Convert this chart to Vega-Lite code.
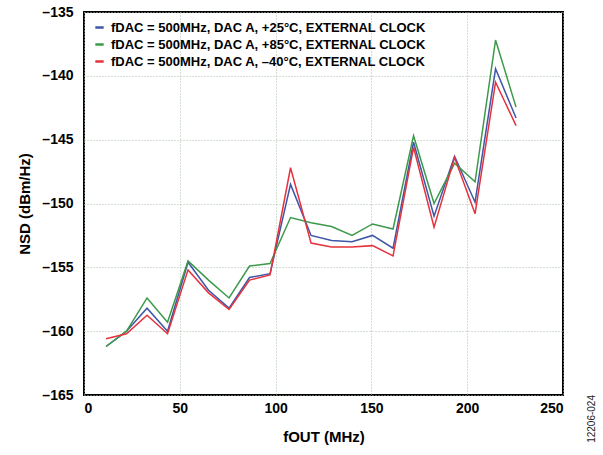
{
  "$schema": "https://vega.github.io/schema/vega-lite/v6.json",
  "width": 479,
  "height": 383,
  "autosize": "none",
  "padding": {"left": 84, "top": 12, "right": 40, "bottom": 60},
  "background": "white",
  "title": {"text": "12206-024", "orient": "right", "anchor": "end", "angle": 270, "fontSize": 10, "font": "Liberation Sans", "fontWeight": "normal", "color": "#222", "offset": 14, "frame": "group"},
  "config": {
    "font": "Liberation Sans",
    "view": {"stroke": "black", "strokeWidth": 2},
    "axis": {"domain": false, "ticks": false, "grid": true, "gridColor": "#a9bfa9", "gridDash": [1, 2], "gridWidth": 1, "labelFont": "Liberation Sans", "labelFontWeight": "bold", "labelFontSize": 14, "labelColor": "black", "titleFont": "Liberation Sans", "titleFontWeight": "bold", "titleFontSize": 15, "titleColor": "black"},
    "legend": {"labelFont": "Liberation Sans", "labelFontWeight": "bold", "labelFontSize": 13, "labelColor": "black", "labelLimit": 500}
  },
  "data": {"values": [
    {"f": 11.5, "nsd": -161.2, "s": "fDAC = 500MHz, DAC A, +25°C, EXTERNAL CLOCK"},
    {"f": 22.2, "nsd": -160.0, "s": "fDAC = 500MHz, DAC A, +25°C, EXTERNAL CLOCK"},
    {"f": 32.9, "nsd": -158.2, "s": "fDAC = 500MHz, DAC A, +25°C, EXTERNAL CLOCK"},
    {"f": 43.6, "nsd": -160.0, "s": "fDAC = 500MHz, DAC A, +25°C, EXTERNAL CLOCK"},
    {"f": 54.3, "nsd": -154.6, "s": "fDAC = 500MHz, DAC A, +25°C, EXTERNAL CLOCK"},
    {"f": 65.0, "nsd": -156.8, "s": "fDAC = 500MHz, DAC A, +25°C, EXTERNAL CLOCK"},
    {"f": 75.7, "nsd": -158.2, "s": "fDAC = 500MHz, DAC A, +25°C, EXTERNAL CLOCK"},
    {"f": 86.4, "nsd": -155.8, "s": "fDAC = 500MHz, DAC A, +25°C, EXTERNAL CLOCK"},
    {"f": 97.1, "nsd": -155.5, "s": "fDAC = 500MHz, DAC A, +25°C, EXTERNAL CLOCK"},
    {"f": 107.8, "nsd": -148.5, "s": "fDAC = 500MHz, DAC A, +25°C, EXTERNAL CLOCK"},
    {"f": 118.5, "nsd": -152.5, "s": "fDAC = 500MHz, DAC A, +25°C, EXTERNAL CLOCK"},
    {"f": 129.2, "nsd": -152.9, "s": "fDAC = 500MHz, DAC A, +25°C, EXTERNAL CLOCK"},
    {"f": 139.9, "nsd": -153.0, "s": "fDAC = 500MHz, DAC A, +25°C, EXTERNAL CLOCK"},
    {"f": 150.6, "nsd": -152.5, "s": "fDAC = 500MHz, DAC A, +25°C, EXTERNAL CLOCK"},
    {"f": 161.3, "nsd": -153.5, "s": "fDAC = 500MHz, DAC A, +25°C, EXTERNAL CLOCK"},
    {"f": 172.0, "nsd": -145.2, "s": "fDAC = 500MHz, DAC A, +25°C, EXTERNAL CLOCK"},
    {"f": 182.7, "nsd": -151.0, "s": "fDAC = 500MHz, DAC A, +25°C, EXTERNAL CLOCK"},
    {"f": 193.4, "nsd": -146.3, "s": "fDAC = 500MHz, DAC A, +25°C, EXTERNAL CLOCK"},
    {"f": 204.1, "nsd": -149.9, "s": "fDAC = 500MHz, DAC A, +25°C, EXTERNAL CLOCK"},
    {"f": 214.8, "nsd": -139.45, "s": "fDAC = 500MHz, DAC A, +25°C, EXTERNAL CLOCK"},
    {"f": 225.5, "nsd": -143.3, "s": "fDAC = 500MHz, DAC A, +25°C, EXTERNAL CLOCK"},
    {"f": 11.5, "nsd": -161.2, "s": "fDAC = 500MHz, DAC A, +85°C, EXTERNAL CLOCK"},
    {"f": 22.2, "nsd": -160.0, "s": "fDAC = 500MHz, DAC A, +85°C, EXTERNAL CLOCK"},
    {"f": 32.9, "nsd": -157.4, "s": "fDAC = 500MHz, DAC A, +85°C, EXTERNAL CLOCK"},
    {"f": 43.6, "nsd": -159.3, "s": "fDAC = 500MHz, DAC A, +85°C, EXTERNAL CLOCK"},
    {"f": 54.3, "nsd": -154.5, "s": "fDAC = 500MHz, DAC A, +85°C, EXTERNAL CLOCK"},
    {"f": 65.0, "nsd": -156.0, "s": "fDAC = 500MHz, DAC A, +85°C, EXTERNAL CLOCK"},
    {"f": 75.7, "nsd": -157.4, "s": "fDAC = 500MHz, DAC A, +85°C, EXTERNAL CLOCK"},
    {"f": 86.4, "nsd": -154.9, "s": "fDAC = 500MHz, DAC A, +85°C, EXTERNAL CLOCK"},
    {"f": 97.1, "nsd": -154.7, "s": "fDAC = 500MHz, DAC A, +85°C, EXTERNAL CLOCK"},
    {"f": 107.8, "nsd": -151.1, "s": "fDAC = 500MHz, DAC A, +85°C, EXTERNAL CLOCK"},
    {"f": 118.5, "nsd": -151.5, "s": "fDAC = 500MHz, DAC A, +85°C, EXTERNAL CLOCK"},
    {"f": 129.2, "nsd": -151.8, "s": "fDAC = 500MHz, DAC A, +85°C, EXTERNAL CLOCK"},
    {"f": 139.9, "nsd": -152.5, "s": "fDAC = 500MHz, DAC A, +85°C, EXTERNAL CLOCK"},
    {"f": 150.6, "nsd": -151.6, "s": "fDAC = 500MHz, DAC A, +85°C, EXTERNAL CLOCK"},
    {"f": 161.3, "nsd": -152.0, "s": "fDAC = 500MHz, DAC A, +85°C, EXTERNAL CLOCK"},
    {"f": 172.0, "nsd": -144.7, "s": "fDAC = 500MHz, DAC A, +85°C, EXTERNAL CLOCK"},
    {"f": 182.7, "nsd": -150.0, "s": "fDAC = 500MHz, DAC A, +85°C, EXTERNAL CLOCK"},
    {"f": 193.4, "nsd": -146.85, "s": "fDAC = 500MHz, DAC A, +85°C, EXTERNAL CLOCK"},
    {"f": 204.1, "nsd": -148.3, "s": "fDAC = 500MHz, DAC A, +85°C, EXTERNAL CLOCK"},
    {"f": 214.8, "nsd": -137.2, "s": "fDAC = 500MHz, DAC A, +85°C, EXTERNAL CLOCK"},
    {"f": 225.5, "nsd": -142.45, "s": "fDAC = 500MHz, DAC A, +85°C, EXTERNAL CLOCK"},
    {"f": 11.5, "nsd": -160.6, "s": "fDAC = 500MHz, DAC A, –40°C, EXTERNAL CLOCK"},
    {"f": 22.2, "nsd": -160.2, "s": "fDAC = 500MHz, DAC A, –40°C, EXTERNAL CLOCK"},
    {"f": 32.9, "nsd": -158.75, "s": "fDAC = 500MHz, DAC A, –40°C, EXTERNAL CLOCK"},
    {"f": 43.6, "nsd": -160.2, "s": "fDAC = 500MHz, DAC A, –40°C, EXTERNAL CLOCK"},
    {"f": 54.3, "nsd": -155.2, "s": "fDAC = 500MHz, DAC A, –40°C, EXTERNAL CLOCK"},
    {"f": 65.0, "nsd": -157.0, "s": "fDAC = 500MHz, DAC A, –40°C, EXTERNAL CLOCK"},
    {"f": 75.7, "nsd": -158.3, "s": "fDAC = 500MHz, DAC A, –40°C, EXTERNAL CLOCK"},
    {"f": 86.4, "nsd": -156.0, "s": "fDAC = 500MHz, DAC A, –40°C, EXTERNAL CLOCK"},
    {"f": 97.1, "nsd": -155.6, "s": "fDAC = 500MHz, DAC A, –40°C, EXTERNAL CLOCK"},
    {"f": 107.8, "nsd": -147.2, "s": "fDAC = 500MHz, DAC A, –40°C, EXTERNAL CLOCK"},
    {"f": 118.5, "nsd": -153.1, "s": "fDAC = 500MHz, DAC A, –40°C, EXTERNAL CLOCK"},
    {"f": 129.2, "nsd": -153.4, "s": "fDAC = 500MHz, DAC A, –40°C, EXTERNAL CLOCK"},
    {"f": 139.9, "nsd": -153.4, "s": "fDAC = 500MHz, DAC A, –40°C, EXTERNAL CLOCK"},
    {"f": 150.6, "nsd": -153.3, "s": "fDAC = 500MHz, DAC A, –40°C, EXTERNAL CLOCK"},
    {"f": 161.3, "nsd": -154.1, "s": "fDAC = 500MHz, DAC A, –40°C, EXTERNAL CLOCK"},
    {"f": 172.0, "nsd": -145.6, "s": "fDAC = 500MHz, DAC A, –40°C, EXTERNAL CLOCK"},
    {"f": 182.7, "nsd": -151.85, "s": "fDAC = 500MHz, DAC A, –40°C, EXTERNAL CLOCK"},
    {"f": 193.4, "nsd": -146.4, "s": "fDAC = 500MHz, DAC A, –40°C, EXTERNAL CLOCK"},
    {"f": 204.1, "nsd": -150.8, "s": "fDAC = 500MHz, DAC A, –40°C, EXTERNAL CLOCK"},
    {"f": 214.8, "nsd": -140.5, "s": "fDAC = 500MHz, DAC A, –40°C, EXTERNAL CLOCK"},
    {"f": 225.5, "nsd": -143.9, "s": "fDAC = 500MHz, DAC A, –40°C, EXTERNAL CLOCK"}
  ]},
  "mark": {"type": "line", "strokeWidth": 1.5},
  "encoding": {
    "x": {"field": "f", "type": "quantitative", "scale": {"domain": [0, 250], "nice": false}, "axis": {"values": [0, 50, 100, 150, 200, 250], "title": "fOUT (MHz)", "labelPadding": 6, "titlePadding": 14}},
    "y": {"field": "nsd", "type": "quantitative", "scale": {"domain": [-165, -135], "nice": false, "zero": false}, "axis": {"values": [-165, -160, -155, -150, -145, -140, -135], "title": "NSD (dBm/Hz)", "labelExpr": "'–' + abs(datum.value)", "labelPadding": 11, "titlePadding": 9}},
    "color": {"field": "s", "type": "nominal", "sort": null,
      "scale": {"domain": ["fDAC = 500MHz, DAC A, +25°C, EXTERNAL CLOCK", "fDAC = 500MHz, DAC A, +85°C, EXTERNAL CLOCK", "fDAC = 500MHz, DAC A, –40°C, EXTERNAL CLOCK"], "range": ["#3f55a8", "#3c9a4a", "#e5323c"]},
      "legend": {"title": null, "orient": "top-left", "offset": 9, "symbolType": "stroke", "symbolSize": 70, "symbolStrokeWidth": 2.5, "rowPadding": 3, "labelOffset": 5}}
  }
}
